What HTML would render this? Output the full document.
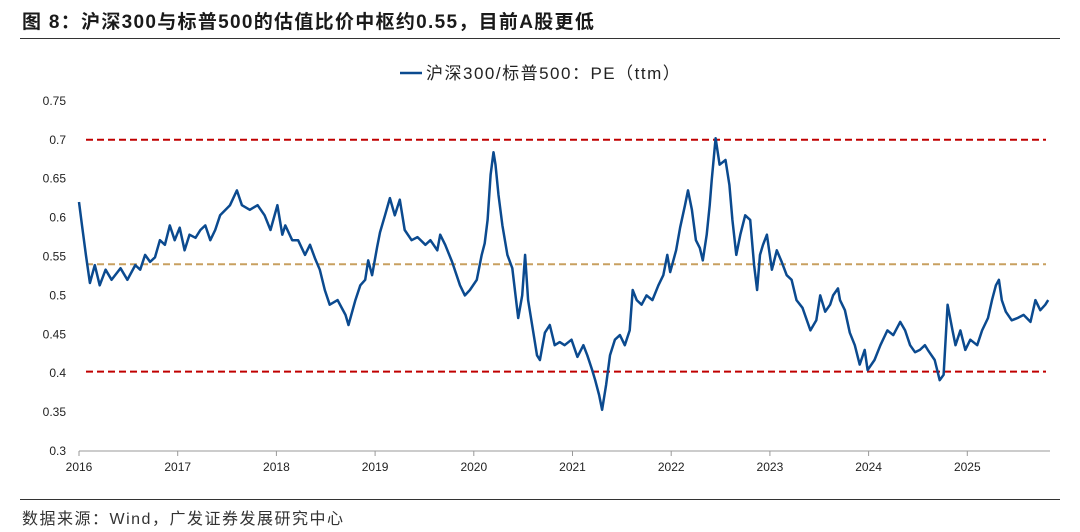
<!DOCTYPE html>
<html><head><meta charset="utf-8">
<style>
body{margin:0;background:#fff;width:1080px;height:532px;overflow:hidden;font-family:"Liberation Sans","Noto Sans CJK SC",sans-serif;}
#title{position:absolute;left:22px;top:7px;font-size:19px;font-weight:bold;color:#1a1a1a;letter-spacing:1.3px;white-space:nowrap;}
#src{position:absolute;left:22px;top:505px;font-size:16px;color:#333;letter-spacing:1.5px;white-space:nowrap;}
.rule{position:absolute;left:20px;width:1040px;height:1px;background:#333;}
</style></head><body>
<div id="title">图 8：沪深300与标普500的估值比价中枢约0.55，目前A股更低</div>
<div class="rule" style="top:38px"></div>
<div class="rule" style="top:499px"></div>
<div id="src">数据来源：Wind，广发证券发展研究中心</div>
<svg id="chart" width="1080" height="532" style="position:absolute;left:0;top:0"></svg>
<script>
const yTicks=[0.3,0.35,0.4,0.45,0.5,0.55,0.6,0.65,0.7,0.75];
const yTickLabels=["0.3","0.35","0.4","0.45","0.5","0.55","0.6","0.65","0.7","0.75"];
const xYears=[2016,2017,2018,2019,2020,2021,2022,2023,2024,2025];
const refUpper=0.7, refLower=0.402, refMid=0.54;
const dates=[2016.00,2016.03,2016.07,2016.11,2016.16,2016.21,2016.27,2016.33,2016.42,2016.49,2016.57,2016.62,2016.67,2016.72,2016.77,2016.82,2016.87,2016.92,2016.97,2017.02,2017.07,2017.12,2017.18,2017.23,2017.28,2017.33,2017.38,2017.43,2017.53,2017.60,2017.65,2017.73,2017.81,2017.88,2017.94,2018.01,2018.06,2018.09,2018.16,2018.22,2018.29,2018.34,2018.39,2018.44,2018.49,2018.54,2018.62,2018.70,2018.73,2018.80,2018.85,2018.90,2018.93,2018.97,2019.02,2019.05,2019.10,2019.15,2019.20,2019.25,2019.30,2019.37,2019.43,2019.51,2019.56,2019.63,2019.66,2019.71,2019.78,2019.86,2019.91,2019.96,2020.03,2020.08,2020.11,2020.14,2020.17,2020.20,2020.22,2020.25,2020.29,2020.34,2020.39,2020.45,2020.49,2020.52,2020.55,2020.60,2020.64,2020.67,2020.72,2020.77,2020.82,2020.87,2020.92,2020.99,2021.05,2021.11,2021.15,2021.20,2021.23,2021.27,2021.30,2021.34,2021.38,2021.43,2021.48,2021.53,2021.58,2021.61,2021.65,2021.70,2021.75,2021.81,2021.87,2021.92,2021.96,2021.99,2022.05,2022.09,2022.14,2022.17,2022.21,2022.25,2022.29,2022.32,2022.36,2022.39,2022.41,2022.45,2022.49,2022.55,2022.59,2022.62,2022.66,2022.70,2022.75,2022.80,2022.84,2022.87,2022.90,2022.93,2022.97,2023.02,2023.07,2023.12,2023.17,2023.22,2023.27,2023.33,2023.41,2023.47,2023.51,2023.56,2023.61,2023.64,2023.69,2023.71,2023.76,2023.81,2023.86,2023.91,2023.96,2023.99,2024.06,2024.12,2024.19,2024.25,2024.32,2024.37,2024.42,2024.47,2024.52,2024.57,2024.60,2024.67,2024.72,2024.76,2024.80,2024.85,2024.88,2024.93,2024.98,2025.03,2025.10,2025.15,2025.21,2025.25,2025.29,2025.32,2025.35,2025.39,2025.45,2025.51,2025.57,2025.64,2025.69,2025.74,2025.79,2025.82];
const values=[0.620,0.590,0.552,0.516,0.539,0.513,0.533,0.520,0.535,0.520,0.539,0.533,0.552,0.543,0.549,0.571,0.565,0.590,0.571,0.587,0.558,0.578,0.574,0.584,0.590,0.571,0.584,0.603,0.616,0.635,0.616,0.610,0.616,0.603,0.584,0.616,0.578,0.590,0.571,0.571,0.552,0.565,0.548,0.533,0.507,0.488,0.494,0.475,0.462,0.494,0.513,0.520,0.545,0.526,0.562,0.581,0.603,0.625,0.603,0.623,0.584,0.571,0.575,0.565,0.571,0.558,0.578,0.565,0.543,0.513,0.500,0.507,0.520,0.552,0.567,0.597,0.655,0.684,0.668,0.629,0.590,0.552,0.535,0.471,0.500,0.552,0.494,0.455,0.423,0.417,0.452,0.462,0.436,0.440,0.436,0.443,0.421,0.436,0.423,0.404,0.391,0.372,0.353,0.385,0.423,0.443,0.449,0.436,0.455,0.507,0.494,0.488,0.500,0.494,0.513,0.526,0.552,0.530,0.558,0.587,0.616,0.635,0.610,0.571,0.561,0.545,0.578,0.616,0.648,0.702,0.668,0.674,0.642,0.597,0.552,0.578,0.603,0.597,0.539,0.507,0.552,0.565,0.578,0.533,0.558,0.543,0.526,0.520,0.494,0.484,0.455,0.468,0.500,0.479,0.488,0.500,0.509,0.494,0.481,0.452,0.436,0.411,0.430,0.404,0.417,0.436,0.455,0.449,0.466,0.455,0.436,0.427,0.430,0.436,0.430,0.417,0.391,0.398,0.488,0.455,0.436,0.455,0.430,0.443,0.436,0.455,0.471,0.494,0.513,0.520,0.494,0.479,0.468,0.471,0.475,0.466,0.494,0.481,0.488,0.494];

const NS="http://www.w3.org/2000/svg";
const svg=document.getElementById('chart');
const x0=79,pxYear=98.7,yBase=451,pxUnit=778;
const xs=t=>x0+(t-2016)*pxYear;
const ys=v=>yBase-(v-0.3)*pxUnit;
function mk(tag,attrs){const e=document.createElementNS(NS,tag);for(const k in attrs)e.setAttribute(k,attrs[k]);svg.appendChild(e);return e;}

const ax=mk('line',{x1:x0,x2:1050,y1:yBase,y2:yBase,stroke:'#999','stroke-width':1});


xYears.forEach(yr=>{
  const tk=mk('line',{x1:xs(yr),x2:xs(yr),y1:yBase,y2:yBase+5,stroke:'#999'});
  
  
  const t=mk('text',{x:xs(yr),y:yBase+20,'text-anchor':'middle','font-size':12,fill:'#222','font-family':'Liberation Sans, sans-serif'});
  t.textContent=yr;
  
  
});
yTicks.forEach((v,i)=>{
  const t=mk('text',{x:66,y:ys(v)+4,'text-anchor':'end','font-size':12,fill:'#222','font-family':'Liberation Sans, sans-serif'});
  t.textContent=yTickLabels[i];
  
  
});
[[refUpper,'#c00000','upper-band-line'],[refLower,'#c00000','lower-band-line'],[refMid,'#c8a060','mean-line']].forEach(r=>{
  const l=mk('line',{x1:86,x2:1046,y1:ys(r[0]),y2:ys(r[0]),stroke:r[1],'stroke-width':2,'stroke-dasharray':'7,4'});
  
  
});
const d=dates.map((t,i)=>(i?'L':'M')+xs(t).toFixed(1)+','+ys(values[i]).toFixed(1)).join(' ');
const p=mk('path',{d:d,fill:'none',stroke:'#0b4a8f','stroke-width':2.5,'stroke-linejoin':'round'});


const ll=mk('line',{x1:400,x2:422,y1:73,y2:73,stroke:'#0b4a8f','stroke-width':2.5});


const lt=mk('text',{x:426,y:79,'font-size':17,'letter-spacing':1.5,fill:'#222','font-family':'Liberation Sans, Noto Sans CJK SC, sans-serif'});
lt.textContent='沪深300/标普500：PE（ttm）';


</script>
</body></html>
